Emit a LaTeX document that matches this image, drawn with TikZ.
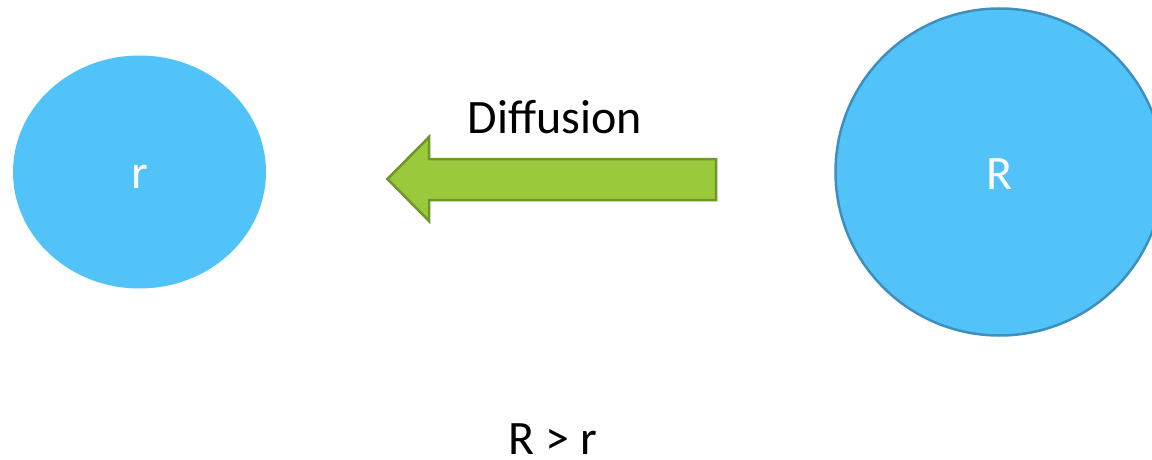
\documentclass[tikz,border=0pt]{standalone}
\usepackage{fontspec}
\setmainfont{Carlito}
\definecolor{ballfill}{HTML}{52C3F8}
\definecolor{balledge}{HTML}{3D8FBE}
\definecolor{arrowfill}{HTML}{9ACA3C}
\definecolor{arrowedge}{HTML}{6E962A}
\begin{document}
\begin{tikzpicture}[x=1pt,y=1pt,
  lbl/.style={font=\fontsize{48}{56}\selectfont, anchor=base, inner sep=0pt},
  whitelbl/.style={lbl, text=white}]
\useasboundingbox (0,0) rectangle (1152,459);
\clip (0,0) rectangle (1152,459);
% small ball
\fill[ballfill] (139.5,287) ellipse [x radius=126.5, y radius=116.5];
\node[whitelbl] (r) at (139.5,271) {r};
% big ball
\filldraw[fill=ballfill, draw=balledge, line width=2.5pt] (999.5,287) ellipse [x radius=164, y radius=163.5];
\node[whitelbl] (R) at (999.5,270) {R};
% arrow
\filldraw[fill=arrowfill, draw=arrowedge, line width=2.5pt, line join=miter]
  (387.5,280) -- (429,322) -- (429,300) -- (716,300) -- (716,259) -- (429,259) -- (429,238) -- cycle;
\node[lbl] (diff) at (555,326) {Diffusion};
\node[lbl] (cmp) at (553,5) {R > r};
\end{tikzpicture}
\end{document}
